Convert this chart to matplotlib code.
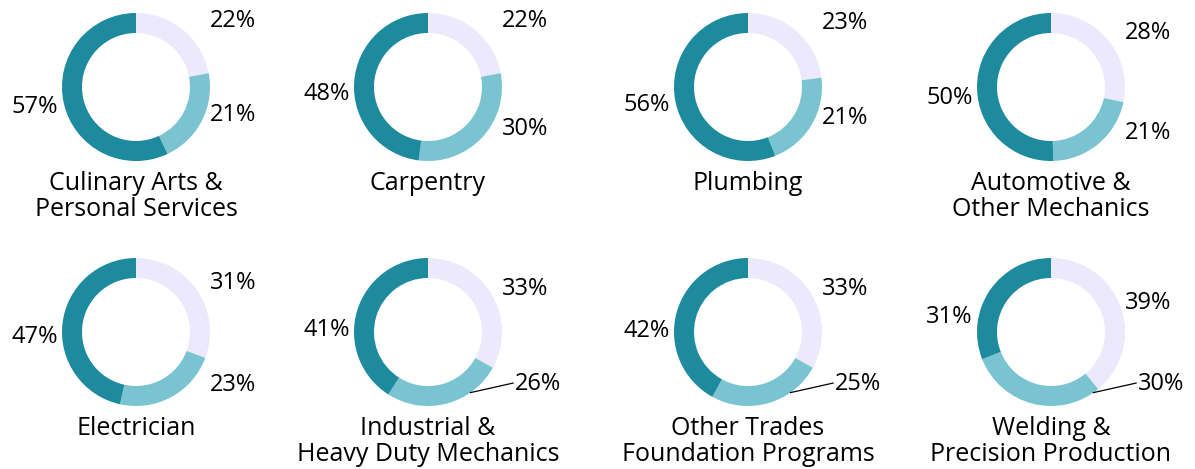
import numpy as np
import matplotlib.pyplot as plt

# chart data (percentages)
categories = [
    "Culinary Arts &\nPersonal Services",
    "Carpentry",
    "Plumbing",
    "Automotive &\nOther Mechanics",
    "Electrician",
    "Industrial &\nHeavy Duty Mechanics",
    "Other Trades\nFoundation Programs",
    "Welding &\nPrecision Production",
]
share_light = [22, 22, 23, 28, 31, 33, 33, 39]
share_mid = [21, 30, 21, 21, 23, 26, 25, 30]
share_dark = [57, 48, 56, 50, 47, 41, 42, 31]

colors = ["#ECE9FC", "#7AC4D1", "#1E8A9E"]
FONT = ["Open Sans", "DejaVu Sans"]

W, H = 1195, 469
R = 74
RING = 20
col_x = [136, 428, 748, 1051]
row_y = [87, 332]

fig = plt.figure(figsize=(W / 100, H / 100), dpi=100)
ax = fig.add_axes([0, 0, 1, 1])

for i, title in enumerate(categories):
    cx = col_x[i % 4]
    cy = H - row_y[i // 4]
    vals = [share_light[i], share_mid[i], share_dark[i]]
    ax.pie(vals, colors=colors, radius=R, center=(cx, cy), startangle=90,
           counterclock=False, frame=True,
           wedgeprops=dict(width=RING, linewidth=0))

    total = sum(vals)
    start = 0
    for v in vals:
        mid = (start + v / 2) / total * 360
        start += v
        s, c = np.sin(np.radians(mid)), np.cos(np.radians(mid))
        label = f"{v}%"
        if 160 < mid < 220:
            # small bottom slice: label pushed right with a leader line
            a = np.radians(145)
            ax.plot([cx + R * np.sin(a), cx + 1.15 * R],
                    [cy + R * np.cos(a), cy - 0.69 * R],
                    color="black", lw=0.9)
            ax.text(cx + 1.18 * R, cy - 0.7 * R, label, ha="left", va="center",
                    fontsize=17, family=FONT)
        elif s >= 0:
            k = 1.15 * R if c > 0 else 0.82 * R
            off = np.clip(c * k, -0.85 * R, 0.9 * R)
            ax.text(cx + 1.0 * R, cy + off, label, ha="left", va="center",
                    fontsize=17, family=FONT)
        else:
            off = c * 0.6 * R - 0.135 * R
            ax.text(cx - 1.06 * R, cy + off, label, ha="right", va="center",
                    fontsize=17, family=FONT)

    ax.text(cx, cy - 1.14 * R, title, ha="center", va="top", fontsize=18,
            family=FONT, linespacing=1.04)

ax.set_xlim(0, W)
ax.set_ylim(0, H)
ax.set_aspect("equal")
ax.axis("off")
fig.savefig("out.png", dpi=100)
